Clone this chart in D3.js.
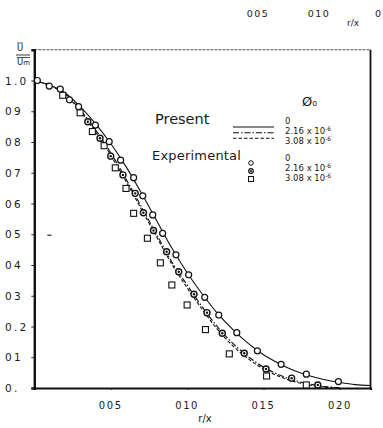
<!DOCTYPE html>
<html>
<head>
<meta charset="utf-8">
<script src="https://cdn.jsdelivr.net/npm/d3@7"></script>
<style>
  html, body { margin: 0; padding: 0; background: #fff; }
  svg { display: block; }
  text { font-family: "DejaVu Sans", "Noto Sans", sans-serif; fill: #1a1a1a; }
</style>
</head>
<body>
<svg id="chart" width="383" height="428"></svg>
<script>
// Radial coordinate r/x at which the predicted profiles are tabulated
const curveR = [0, 0.01, 0.02, 0.03, 0.04, 0.05, 0.06, 0.07, 0.08, 0.09, 0.10,
                0.11, 0.12, 0.13, 0.14, 0.15, 0.16, 0.17, 0.18, 0.19, 0.20, 0.21, 0.22];
// Predicted U/Um, phi0 = 0 (solid)
const presentZero = [1.0, 0.985, 0.96, 0.915, 0.86, 0.795, 0.72, 0.635, 0.545, 0.455, 0.375,
                     0.305, 0.242, 0.19, 0.145, 0.108, 0.08, 0.057, 0.04, 0.027, 0.018, 0.011, 0.008];
// Predicted U/Um, phi0 = 2.16e-6 (dash-dot)
const presentMid = [1.0, 0.985, 0.958, 0.905, 0.84, 0.765, 0.68, 0.59, 0.50, 0.41, 0.335,
                    0.263, 0.198, 0.145, 0.102, 0.068, 0.043, 0.025, 0.013, 0.005, 0.001];
// Predicted U/Um, phi0 = 3.08e-6 (dashed)
const presentHigh = [1.0, 0.984, 0.955, 0.90, 0.833, 0.757, 0.672, 0.582, 0.492, 0.403, 0.326,
                     0.255, 0.19, 0.137, 0.095, 0.062, 0.038, 0.021, 0.01, 0.003, 0.0];

// Measured profiles: r/x and U/Um
const expZeroR = [0.002, 0.0098, 0.017, 0.023, 0.029, 0.040, 0.049, 0.0565, 0.065, 0.071, 0.0775,
                  0.084, 0.0927, 0.101, 0.1115, 0.1207, 0.1325, 0.146, 0.1615, 0.178, 0.199];
const expZeroU = [1.0, 0.982, 0.972, 0.937, 0.915, 0.855, 0.801, 0.741, 0.684, 0.625, 0.563,
                  0.503, 0.433, 0.368, 0.295, 0.237, 0.180, 0.121, 0.077, 0.045, 0.021];
const expMidR = [0.035, 0.043, 0.050, 0.058, 0.066, 0.0714, 0.078, 0.0866, 0.0945, 0.1045,
                 0.113, 0.123, 0.1374, 0.1516, 0.1684, 0.1855];
const expMidU = [0.866, 0.812, 0.754, 0.693, 0.633, 0.570, 0.512, 0.443, 0.378, 0.305,
                 0.245, 0.178, 0.113, 0.062, 0.032, 0.010];
const expHighR = [0.0186, 0.030, 0.038, 0.0457, 0.053, 0.060, 0.065, 0.074, 0.0825, 0.090,
                  0.100, 0.112, 0.1276, 0.152, 0.178];
const expHighU = [0.952, 0.895, 0.834, 0.788, 0.716, 0.649, 0.568, 0.487, 0.407, 0.335,
                  0.270, 0.190, 0.111, 0.039, 0.010];

// Axis ticks
const xTicks = [0.05, 0.10, 0.15, 0.20];
const xTickLabels = ["005", "010", "015", "020"];
const yTicks = [0, 0.1, 0.2, 0.3, 0.4, 0.5, 0.6, 0.7, 0.8, 0.9, 1.0];
const yTickLabels = ["0.", "01", "0.2", "03", "04", "05", "06", "07", "08", "09", "1.0"];

const svg = d3.select("#chart");

const x = d3.scaleLinear().domain([0, 0.22]).range([34.3, 370.5]);
const y = d3.scaleLinear().domain([0, 1.1]).range([388, 49.75]);

// --- fragment of the neighbouring figure's axis at the very top ---
const topFrag = svg.append("g").style("font-size", "9.5px").style("letter-spacing", "1.5px");
topFrag.append("text").attr("x", 258).attr("y", 17).attr("text-anchor", "middle").text("005");
topFrag.append("text").attr("x", 319).attr("y", 17).attr("text-anchor", "middle").text("010");
topFrag.append("text").attr("x", 347).attr("y", 26).style("font-size", "9px").style("letter-spacing", "0px").text("r/x");
topFrag.append("text").attr("x", 375).attr("y", 17).style("letter-spacing", "0px").text("0");

// --- frame ---
const frame = svg.append("g");
frame.append("line").attr("x1", x(0)).attr("x2", x(0.22)).attr("y1", y(1.1)).attr("y2", y(1.1))
  .attr("stroke", "#555").attr("stroke-width", 1).attr("stroke-dasharray", "3,1");
frame.append("line").attr("x1", x(0.22)).attr("x2", x(0.22)).attr("y1", y(1.1)).attr("y2", y(0))
  .attr("stroke", "#111").attr("stroke-width", 1.8);

// --- y axis ---
const yAxis = d3.axisLeft(y).tickValues(yTicks).tickSize(3).tickFormat("");
const gy = svg.append("g").attr("transform", `translate(${x(0)},0)`).call(yAxis);
gy.select(".domain").attr("stroke", "#111").attr("stroke-width", 2.4);
gy.selectAll(".tick line").attr("stroke", "#222").attr("stroke-width", 1);
svg.append("g").selectAll("text").data(yTicks).join("text")
  .attr("x", 5)
  .attr("y", d => y(d) + 4)
  .style("font-size", "10.5px")
  .style("letter-spacing", "2.2px")
  .text((d, i) => yTickLabels[i]);

// --- x axis ---
const xAxis = d3.axisBottom(x).tickValues(xTicks).tickSize(2).tickFormat("");
const gx = svg.append("g").attr("transform", `translate(0,${y(0)})`).call(xAxis);
gx.select(".domain").attr("stroke", "#111").attr("stroke-width", 2.2);
gx.selectAll(".tick line").attr("stroke", "#222").attr("stroke-width", 1);
svg.append("g").selectAll("text").data(xTicks).join("text")
  .attr("x", d => x(d))
  .attr("y", 409)
  .attr("text-anchor", "middle")
  .style("font-size", "10px")
  .style("letter-spacing", "1.6px")
  .text((d, i) => xTickLabels[i]);
svg.append("text").attr("x", 205).attr("y", 422).attr("text-anchor", "middle")
  .style("font-size", "10px").text("r/x");

// --- y axis title: U / Um with overbars ---
const yt = svg.append("g").style("font-size", "8.5px");
yt.append("text").attr("x", 17).attr("y", 51).text("U");
yt.append("line").attr("x1", 17).attr("x2", 23).attr("y1", 43).attr("y2", 43).attr("stroke", "#222").attr("stroke-width", 0.8);
yt.append("line").attr("x1", 16).attr("x2", 30).attr("y1", 55).attr("y2", 55).attr("stroke", "#222").attr("stroke-width", 0.9);
const um = yt.append("text").attr("x", 17).attr("y", 65);
um.append("tspan").text("U");
um.append("tspan").style("font-size", "7px").text("m");
yt.append("line").attr("x1", 17).attr("x2", 30).attr("y1", 57.5).attr("y2", 57.5).attr("stroke", "#222").attr("stroke-width", 0.8);

// --- predicted profiles ---
const line = d3.line().x(d => x(d[0])).y(d => y(d[1])).curve(d3.curveCatmullRom.alpha(0.5));
const series = [
  { vals: presentZero, dash: null },
  { vals: presentMid, dash: "6,2,1.5,2" },
  { vals: presentHigh, dash: "3.5,2" }
];
svg.append("g").selectAll("path").data(series).join("path")
  .attr("d", s => line(s.vals.map((u, i) => [curveR[i], u])))
  .attr("fill", "none")
  .attr("stroke", "#111")
  .attr("stroke-width", 1.1)
  .attr("stroke-dasharray", s => s.dash);

// --- measured points ---
const pts = svg.append("g");
pts.selectAll(".sq").data(expHighR.map((r, i) => [r, expHighU[i]])).join("rect")
  .attr("x", d => x(d[0]) - 3).attr("y", d => y(d[1]) - 3)
  .attr("width", 6).attr("height", 6)
  .attr("fill", "#fff").attr("stroke", "#111").attr("stroke-width", 1.1);
pts.selectAll(".oc").data(expZeroR.map((r, i) => [r, expZeroU[i]])).join("circle")
  .attr("cx", d => x(d[0])).attr("cy", d => y(d[1])).attr("r", 3)
  .attr("fill", "#fff").attr("stroke", "#111").attr("stroke-width", 1.2);
const mid = pts.append("g").selectAll("g").data(expMidR.map((r, i) => [r, expMidU[i]])).join("g");
mid.append("circle").attr("cx", d => x(d[0])).attr("cy", d => y(d[1])).attr("r", 3)
  .attr("fill", "#fff").attr("stroke", "#111").attr("stroke-width", 1.4);
mid.append("circle").attr("cx", d => x(d[0])).attr("cy", d => y(d[1])).attr("r", 1.2).attr("fill", "#111");

// stray mark near the 0.5 level
svg.append("line").attr("x1", x(0.0085)).attr("x2", x(0.0112)).attr("y1", y(0.497)).attr("y2", y(0.497))
  .attr("stroke", "#222").attr("stroke-width", 1.2);

// --- legend ---
const lg = svg.append("g");
const phi = lg.append("text").attr("x", 302).attr("y", 106).style("font-size", "13px");
phi.append("tspan").text("Ø");
phi.append("tspan").style("font-size", "8px").text("o");

lg.append("text").attr("x", 155).attr("y", 124).style("font-size", "14.5px").text("Present");
lg.append("text").attr("x", 152).attr("y", 160).style("font-size", "13px").style("letter-spacing", "0.2px").text("Experimental");

const legLines = [
  { yy: 127, dash: null },
  { yy: 132.7, dash: "6,2,1.5,2" },
  { yy: 138.3, dash: "3.5,2" }
];
lg.selectAll(".ll").data(legLines).join("line")
  .attr("x1", 233).attr("x2", 274).attr("y1", d => d.yy).attr("y2", d => d.yy)
  .attr("stroke", "#111").attr("stroke-width", 1.1).attr("stroke-dasharray", d => d.dash);

function phiLabel(g, xx, yy, base) {
  const t = g.append("text").attr("x", xx).attr("y", yy).style("font-size", "8.5px");
  t.append("tspan").text(base + " x 10");
  t.append("tspan").attr("dy", -3).style("font-size", "6px").text("-6");
}
lg.append("text").attr("x", 285).attr("y", 124).style("font-size", "8.5px").text("0");
phiLabel(lg, 285, 134, "2.16");
phiLabel(lg, 285, 144, "3.08");

// experimental symbols
lg.append("circle").attr("cx", 251).attr("cy", 163).attr("r", 2.3)
  .attr("fill", "#fff").attr("stroke", "#111").attr("stroke-width", 1);
lg.append("circle").attr("cx", 251).attr("cy", 171).attr("r", 2.3)
  .attr("fill", "#fff").attr("stroke", "#111").attr("stroke-width", 1.2);
lg.append("circle").attr("cx", 251).attr("cy", 171).attr("r", 1).attr("fill", "#111");
lg.append("rect").attr("x", 248.5).attr("y", 176.5).attr("width", 5).attr("height", 5)
  .attr("fill", "#fff").attr("stroke", "#111").attr("stroke-width", 1);
lg.append("text").attr("x", 285).attr("y", 161).style("font-size", "8.5px").text("0");
phiLabel(lg, 285, 171, "2.16");
phiLabel(lg, 285, 181, "3.08");
</script>
</body>
</html>
